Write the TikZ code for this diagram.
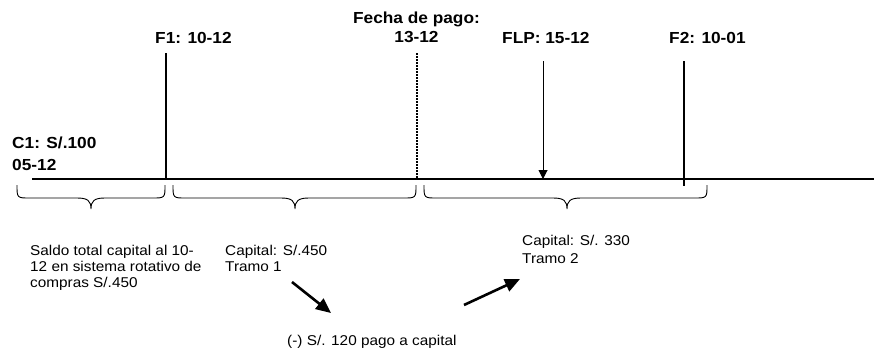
\documentclass[tikz,border=0pt]{standalone}
\usepackage{fontspec}
\setmainfont{Liberation Sans}[FakeStretch=1.08]
\usetikzlibrary{arrows.meta}
\begin{document}
\begin{tikzpicture}[x=1pt,y=-1pt,
  datelbl/.style={font=\bfseries\fontsize{16}{19}\selectfont, inner sep=0pt, align=left},
  note/.style={font=\fontsize{14.2}{16}\selectfont, inner sep=0pt, align=left},
  axis/.style={line width=2pt},
  mark line/.style={line width=1.8pt},
  brace line/.style={line width=0.9pt},
  big arrow/.style={line width=2.6pt, -{Triangle[length=15pt,width=13pt]}},
  thin arrow/.style={line width=1pt, -{Triangle[length=9pt,width=9pt]}}]
\useasboundingbox (0,0) rectangle (874,351);
% timeline
\coordinate (a0) at (32,179);
\coordinate (a1) at (874,179);
\draw[axis] (a0) -- (a1);
% markers
\coordinate (f1t) at (166,53);  \coordinate (f1b) at (166,179);
\coordinate (fpt) at (417,53);  \coordinate (fpb) at (417,179);
\coordinate (flt) at (543,61);  \coordinate (flb) at (543,179);
\coordinate (f2t) at (684,61);  \coordinate (f2b) at (684,186);
\draw[mark line] (f1t) -- (f1b);
\draw[line width=1.5pt, dash pattern=on 1.5pt off 1.5pt] (fpt) -- (fpb);
\draw[thin arrow] (flt) -- (flb);
\draw[mark line] (f2t) -- (f2b);
% labels (base = baseline of the last line)
\node[datelbl, anchor=base, align=center] (fecha) at (416.5,42) {Fecha de pago:\\13-12};
\node[datelbl, anchor=base west] (f1) at (155,43) {F1: 10-12};
\node[datelbl, anchor=base west] (flp) at (502,43) {FLP: 15-12};
\node[datelbl, anchor=base west] (f2) at (669,43) {F2: 10-01};
\node[datelbl, anchor=base west, font=\bfseries\fontsize{16}{22}\selectfont] (c1) at (12,170) {C1: S/.100\\05-12};
% braces
\newcommand\mybrace[3]{%
  \draw[brace line] (#1,185) .. controls (#1,198) and (#1,198) .. (#1+13,198)
    -- (#3-14,198) .. controls (#3-3,198) and (#3,201) .. (#3,209)
    .. controls (#3,201) and (#3+3,198) .. (#3+14,198)
    -- (#2-13,198) .. controls (#2,198) and (#2,198) .. (#2,185);}
\mybrace{17}{165}{91}
\mybrace{173}{416}{295}
\mybrace{424}{707}{567}
% notes
\node[note, anchor=base west] (saldo) at (30,287) {Saldo total capital al 10-\\12 en sistema rotativo de\\compras S/.450};
\node[note, anchor=base west] (cap1) at (225,271) {Capital: S/.450\\Tramo 1};
\node[note, anchor=base west, font=\fontsize{14.2}{17.5}\selectfont] (cap2) at (522,263) {Capital: S/. 330\\Tramo 2};
\node[note, anchor=base west] (pago) at (287,345) {(-) S/. 120 pago a capital};
% arrows
\coordinate (ar1s) at (292,282); \coordinate (ar1e) at (331,313);
\coordinate (ar2s) at (464,305); \coordinate (ar2e) at (520,279);
\draw[big arrow] (ar1s) -- (ar1e);
\draw[big arrow] (ar2s) -- (ar2e);
\end{tikzpicture}
\end{document}
